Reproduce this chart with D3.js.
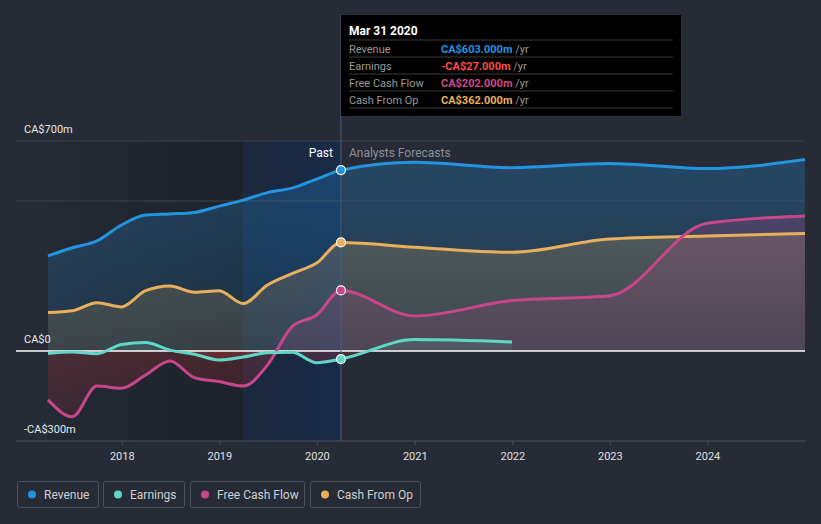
<!DOCTYPE html>
<html>
<head>
<meta charset="utf-8">
<script src="https://cdn.jsdelivr.net/npm/d3@7"></script>
<style>
    body { margin: 0; background: #262b36; }
    svg { display: block; font-family: Roboto, "Noto Sans", sans-serif; }
</style>
</head>
<body>
<svg id="chart" width="821" height="524"></svg>
<script>
//  Data ---
var pastDates = ["2017-03-31", "2017-06-30", "2017-09-30", "2017-12-31", "2018-03-31", "2018-06-30", "2018-09-30",
    "2018-12-31", "2019-03-31", "2019-06-30", "2019-09-30", "2019-12-31", "2020-03-31"];
var forecastDates = ["2020-12-31", "2021-12-31", "2022-12-31", "2023-12-31", "2024-12-31"];

var revenuePast = [317, 344, 367, 420, 453, 457, 462, 483, 503, 528, 543, 573, 603];
var revenueForecast = [629, 611, 625, 608, 638];
var earningsPast = [-8, -3, -9, 22, 28, 3, -11, -30, -20, -6, -4, -39, -27];
var earningsForecast = [38, 30];
var fcfPast = [-163, -219, -117, -124, -80, -33, -89, -102, -117, -47, 81, 120, 202];
var fcfForecast = [117, 168, 184, 426, 450];
var cfoPast = [128, 134, 161, 147, 201, 217, 196, 201, 158, 220, 258, 293, 362];
var cfoForecast = [346, 329, 373, 383, 392];

var yTicks = [700, 0, -300];
var yGrid = [700, 500];
var xTicks = [2018, 2019, 2020, 2021, 2022, 2023, 2024];

var parse = d3.timeParse("%Y-%m-%d");

function series(name, color, past, forecast) {
    var dates = pastDates.concat(forecastDates.slice(0, forecast.length));
    var values = past.concat(forecast);
    return {
        name: name,
        color: color,
        points: values.map(function (v, i) { return { date: parse(dates[i]), value: v }; })
    };
}

var allSeries = [
    series("Revenue", "#2394e0", revenuePast, revenueForecast),
    series("Cash From Op", "#e8b05c", cfoPast, cfoForecast),
    series("Free Cash Flow", "#c8478b", fcfPast, fcfForecast),
    series("Earnings", "#5fd6c6", earningsPast, earningsForecast)
];

var legendItems = [
    { name: "Revenue", color: "#2394e0", x: 17, w: 81 },
    { name: "Earnings", color: "#5fd6c6", x: 103, w: 81 },
    { name: "Free Cash Flow", color: "#c8478b", x: 190, w: 114 },
    { name: "Cash From Op", color: "#e8b05c", x: 310, w: 110 }
];

var tooltipRows = [
    { label: "Revenue", value: "CA$603.000m", color: "#2394e0" },
    { label: "Earnings", value: "-CA$27.000m", color: "#ff4a4a" },
    { label: "Free Cash Flow", value: "CA$202.000m", color: "#d0478f" },
    { label: "Cash From Op", value: "CA$362.000m", color: "#e8b05c" }
];

//  Scales ---
var x = d3.scaleTime()
    .domain([parse("2017-03-31"), parse("2024-12-31")])
    .range([48, 805]);
var y = d3.scaleLinear()
    .domain([-300, 700])
    .range([441, 141]);

var nowDate = parse("2020-03-31");
var yearAgo = parse("2019-03-31");

var svg = d3.select("#chart");
var defs = svg.append("defs");

//  Past shading ---
var gPast = defs.append("linearGradient").attr("id", "pastGrad");
gPast.append("stop").attr("offset", "0%").attr("stop-color", "#000").attr("stop-opacity", 0.05);
gPast.append("stop").attr("offset", "100%").attr("stop-color", "#000").attr("stop-opacity", 0.22);
var gBlue = defs.append("linearGradient").attr("id", "blueGrad");
gBlue.append("stop").attr("offset", "0%").attr("stop-color", "#05214a").attr("stop-opacity", 0.3);
gBlue.append("stop").attr("offset", "100%").attr("stop-color", "#0a2a5c").attr("stop-opacity", 0.5);

svg.append("rect")
    .attr("x", x.range()[0])
    .attr("y", y(700))
    .attr("width", x(yearAgo) - x.range()[0])
    .attr("height", y(-300) - y(700))
    .attr("fill", "url(#pastGrad)");
svg.append("rect")
    .attr("x", x(yearAgo))
    .attr("y", y(700))
    .attr("width", x(nowDate) - x(yearAgo))
    .attr("height", y(-300) - y(700))
    .attr("fill", "url(#blueGrad)");

//  Grid ---
svg.selectAll(".grid").data(yGrid).enter().append("line")
    .attr("x1", 16).attr("x2", 805)
    .attr("y1", function (d) { return y(d); })
    .attr("y2", function (d) { return y(d); })
    .attr("stroke", "#3c424e")
    .attr("stroke-width", 1);

//  Areas (positive in series colour, negative in red) ---
defs.append("clipPath").attr("id", "clipPos").append("rect")
    .attr("x", 0).attr("y", 0).attr("width", 821).attr("height", y(0));
defs.append("clipPath").attr("id", "clipNeg").append("rect")
    .attr("x", 0).attr("y", y(0)).attr("width", 821).attr("height", 524 - y(0));

var negGrad = defs.append("linearGradient")
    .attr("id", "negArea")
    .attr("gradientUnits", "userSpaceOnUse")
    .attr("x1", 0).attr("x2", 0)
    .attr("y1", y(0)).attr("y2", y(-300));
negGrad.append("stop").attr("offset", "0%").attr("stop-color", "#e8383a").attr("stop-opacity", 0.2);
negGrad.append("stop").attr("offset", "100%").attr("stop-color", "#e8383a").attr("stop-opacity", 0.08);

var area = d3.area()
    .x(function (d) { return x(d.date); })
    .y0(y(0))
    .y1(function (d) { return y(d.value); })
    .curve(d3.curveMonotoneX);

allSeries.forEach(function (s, i) {
    var grad = defs.append("linearGradient")
        .attr("id", "area" + i)
        .attr("gradientUnits", "userSpaceOnUse")
        .attr("x1", 0).attr("x2", 0)
        .attr("y1", y(700)).attr("y2", y(0));
    grad.append("stop").attr("offset", "0%").attr("stop-color", s.color).attr("stop-opacity", 0.28);
    grad.append("stop").attr("offset", "100%").attr("stop-color", s.color).attr("stop-opacity", 0.12);

    svg.append("path")
        .datum(s.points)
        .attr("d", area)
        .attr("clip-path", "url(#clipPos)")
        .attr("fill", "url(#area" + i + ")");
    svg.append("path")
        .datum(s.points)
        .attr("d", area)
        .attr("clip-path", "url(#clipNeg)")
        .attr("fill", "url(#negArea)");
});

//  Zero line ---
svg.append("line")
    .attr("x1", 16).attr("x2", 805)
    .attr("y1", y(0)).attr("y2", y(0))
    .attr("stroke", "#ffffff")
    .attr("stroke-width", 1.5);

//  Lines ---
var line = d3.line()
    .x(function (d) { return x(d.date); })
    .y(function (d) { return y(d.value); })
    .curve(d3.curveMonotoneX);
allSeries.forEach(function (s) {
    svg.append("path")
        .datum(s.points)
        .attr("d", line)
        .attr("fill", "none")
        .attr("stroke", s.color)
        .attr("stroke-width", 3);
});

//  Cursor ---
svg.append("line")
    .attr("x1", x(nowDate)).attr("x2", x(nowDate))
    .attr("y1", 15).attr("y2", y(-300))
    .attr("stroke", "#4a5c76")
    .attr("stroke-width", 1);

allSeries.forEach(function (s) {
    var p = s.points[pastDates.length - 1];
    svg.append("circle")
        .attr("cx", x(p.date))
        .attr("cy", y(p.value))
        .attr("r", 4.5)
        .attr("fill", s.color)
        .attr("stroke", "#ffffff")
        .attr("stroke-width", 1.2);
});

svg.append("text")
    .attr("x", x(nowDate) - 8)
    .attr("y", 157)
    .attr("text-anchor", "end")
    .attr("fill", "#ffffff")
    .style("font-size", "12px")
    .text("Past");
svg.append("text")
    .attr("x", x(nowDate) + 8)
    .attr("y", 157)
    .attr("fill", "#8b909a")
    .style("font-size", "12px")
    .text("Analysts Forecasts");

//  Axes ---
svg.selectAll(".ylabel").data(yTicks).enter().append("text")
    .attr("x", 24)
    .attr("y", function (d) { return y(d) - 8; })
    .attr("fill", "#e8e8e8")
    .style("font-size", "11px")
    .text(function (d) {
        if (d === 0) return "CA$0";
        return (d < 0 ? "-" : "") + "CA$" + Math.abs(d) + "m";
    });

var xAxis = svg.append("g")
    .attr("transform", "translate(0," + y(-300) + ")")
    .call(d3.axisBottom(x)
        .tickValues(xTicks.map(function (yr) { return new Date(yr, 0, 1); }))
        .tickFormat(d3.timeFormat("%Y"))
        .tickSizeInner(4)
        .tickSizeOuter(0));
xAxis.select(".domain").remove();
xAxis.insert("line", ":first-child")
    .attr("x1", 16).attr("x2", 805)
    .attr("stroke", "#4a505c");
xAxis.selectAll(".tick line").attr("stroke", "#4a505c");
xAxis.selectAll(".tick text")
    .attr("fill", "#e0e0e0")
    .attr("dy", "1.1em")
    .style("font-size", "11px")
    .style("font-family", "Roboto, sans-serif");

//  Tooltip ---
var tip = svg.append("g").attr("transform", "translate(" + x(nowDate) + ",15)");
tip.append("rect")
    .attr("width", 340)
    .attr("height", 101)
    .attr("fill", "#000000");
tip.append("text")
    .attr("x", 8).attr("y", 20)
    .attr("fill", "#ffffff")
    .style("font-size", "12px")
    .style("font-weight", "bold")
    .text("Mar 31 2020");
tooltipRows.forEach(function (r, i) {
    var top = 25 + i * 17;
    tip.append("line")
        .attr("x1", 8).attr("x2", 332)
        .attr("y1", top).attr("y2", top)
        .attr("stroke", "#3a3a3a");
    tip.append("text")
        .attr("x", 8).attr("y", top + 13)
        .attr("fill", "#9a9a9a")
        .style("font-size", "11px")
        .text(r.label);
    var t = tip.append("text")
        .attr("x", 100).attr("y", top + 13)
        .style("font-size", "11px");
    t.append("tspan").attr("fill", r.color).style("font-weight", "bold").text(r.value);
    t.append("tspan").attr("fill", "#9a9a9a").text(" /yr");
});
tip.append("line")
    .attr("x1", 8).attr("x2", 332)
    .attr("y1", 93).attr("y2", 93)
    .attr("stroke", "#3a3a3a");

//  Legend ---
var legend = svg.selectAll(".legend").data(legendItems).enter().append("g")
    .attr("transform", function (d) { return "translate(" + d.x + ",481)"; });
legend.append("rect")
    .attr("x", 0.5).attr("y", 0.5)
    .attr("width", function (d) { return d.w; })
    .attr("height", 26)
    .attr("rx", 2)
    .attr("fill", "none")
    .attr("stroke", "#4a505c");
legend.append("circle")
    .attr("cx", 15).attr("cy", 13.5)
    .attr("r", 4)
    .attr("fill", function (d) { return d.color; });
legend.append("text")
    .attr("x", 27).attr("y", 17.5)
    .attr("fill", "#d0d0d0")
    .style("font-size", "12px")
    .text(function (d) { return d.name; });
</script>
</body>
</html>
